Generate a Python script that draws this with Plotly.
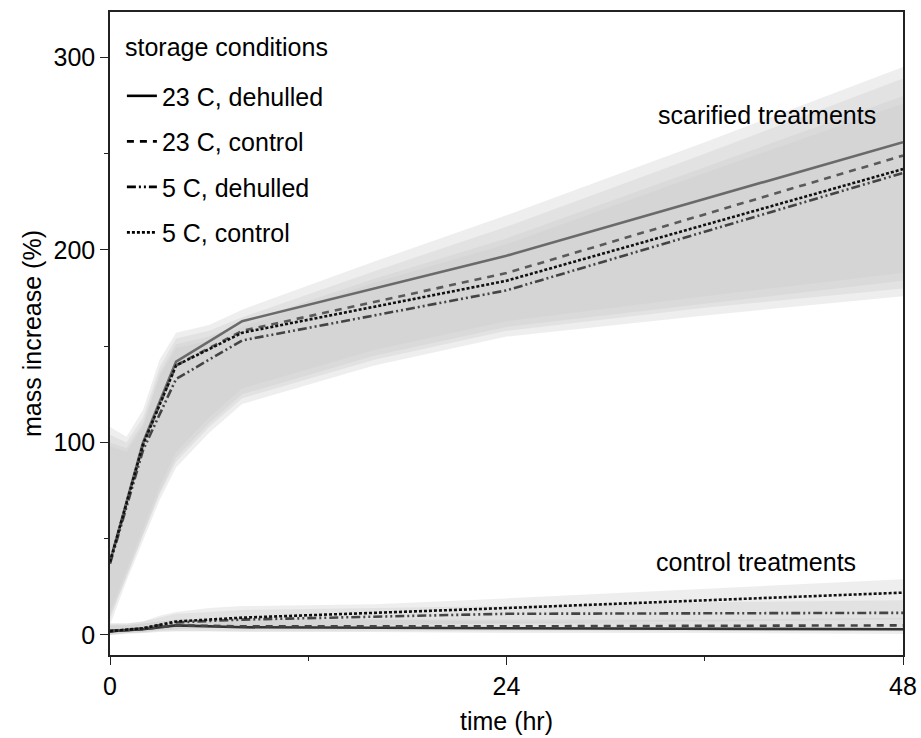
import plotly.graph_objects as go

# ---- data ----
series_names = ["23 C, dehulled", "23 C, control", "5 C, dehulled", "5 C, control"]
time_pts = [0, 2, 4, 8, 24, 48]

scarified_23_dehulled = [38, 100, 142, 163, 197, 256]
scarified_23_control = [38, 99, 140, 158, 188, 249]
scarified_5_dehulled = [37, 96, 133, 153, 179, 240]
scarified_5_control = [38, 99, 140, 157, 184, 242]

control_23_dehulled = [2, 3, 5, 4, 3.5, 3]
control_23_control = [2, 3, 5, 4.5, 4.5, 5]
control_5_dehulled = [2, 3.5, 6.5, 8, 11, 11.5]
control_5_control = [2, 3.5, 7, 9, 14, 22]

# ribbon (confidence band) bounds
band_t = [0, 1, 2, 3, 4, 6, 8, 16, 24, 36, 48]
scar_hi_23_dehulled = [108, 103, 117, 143, 157, 161, 169, 194, 218, 256, 295]
scar_lo_23_dehulled = [10, 30, 52, 74, 92, 110, 125, 145, 160, 172, 184]
scar_hi_23_control = [104, 100, 113, 139, 154, 158, 165, 189, 212, 250, 289]
scar_lo_23_control = [5, 28, 49, 70, 87, 105, 120, 140, 155, 166, 176]
scar_hi_5_dehulled = [100, 97, 110, 136, 151, 155, 162, 185, 206, 243, 280]
scar_lo_5_dehulled = [12, 33, 55, 77, 95, 113, 128, 148, 163, 176, 188]
scar_hi_5_control = [98, 95, 108, 134, 149, 153, 160, 183, 203, 240, 276]
scar_lo_5_control = [8, 31, 52, 73, 90, 108, 123, 143, 158, 170, 180]

ctrl_hi_23_dehulled = [5, 5, 6, 7, 8, 8, 8, 8, 7, 6, 6]
ctrl_lo_23_dehulled = [0, 0.5, 1, 1.5, 2, 2, 1.5, 1.5, 1, 1, 0.5]
ctrl_hi_23_control = [5, 5, 6, 7, 8, 8, 8, 8, 8, 8, 9]
ctrl_lo_23_control = [0.5, 1, 1, 2, 2, 2, 2, 2, 2, 2, 2]
ctrl_hi_5_dehulled = [6, 6, 7, 9, 11, 12, 13, 14, 15, 17, 18]
ctrl_lo_5_dehulled = [0, 1, 1.5, 2.5, 3, 3.5, 4, 5, 6, 6, 6]
ctrl_hi_5_control = [6, 6, 7, 10, 12, 14, 15, 16, 19, 24, 29]
ctrl_lo_5_control = [0, 1, 1.5, 2.5, 3, 4, 4.5, 5, 6, 7, 8]

x_ticks = [0, 24, 48]
y_ticks = [0, 100, 200, 300]

# ---- styles ----
dashes = ["solid", "7px,6px", "9px,3px,2px,3px,2px,3px", "3px,2px"]
colors = ["#6a6a6a", "#5a5a5a", "#444444", "#111111"]
ctrl_colors = ["#333333", "#444444", "#444444", "#111111"]
band_fill = "rgba(203,203,203,0.33)"
FONT = "Liberation Sans, Arial, Helvetica, sans-serif"
FS = 25

fig = go.Figure()

bands = [
    (scar_hi_23_dehulled, scar_lo_23_dehulled), (scar_hi_23_control, scar_lo_23_control),
    (scar_hi_5_dehulled, scar_lo_5_dehulled), (scar_hi_5_control, scar_lo_5_control),
    (ctrl_hi_23_dehulled, ctrl_lo_23_dehulled), (ctrl_hi_23_control, ctrl_lo_23_control),
    (ctrl_hi_5_dehulled, ctrl_lo_5_dehulled), (ctrl_hi_5_control, ctrl_lo_5_control),
]
for hi, lo in bands:
    fig.add_trace(go.Scatter(
        x=band_t + band_t[::-1], y=hi + lo[::-1], fill="toself",
        fillcolor=band_fill, line=dict(width=0), mode="lines",
        showlegend=False, hoverinfo="skip"))

scar = [scarified_23_dehulled, scarified_23_control, scarified_5_dehulled, scarified_5_control]
ctrl = [control_23_dehulled, control_23_control, control_5_dehulled, control_5_control]
for i in range(4):
    fig.add_trace(go.Scatter(x=time_pts, y=scar[i], mode="lines",
                             line=dict(color=colors[i], width=2.6, dash=dashes[i]),
                             showlegend=False))
    fig.add_trace(go.Scatter(x=time_pts, y=ctrl[i], mode="lines",
                             line=dict(color=ctrl_colors[i], width=2.6, dash=dashes[i]),
                             showlegend=False))

# legend entries (black)
for i, name in enumerate(series_names):
    fig.add_trace(go.Scatter(x=[None], y=[None], mode="lines", name=name,
                             legendgroup=name,
                             line=dict(color="black", width=2.6, dash=dashes[i])))

tfont = dict(size=FS, color="black", family=FONT)
fig.add_annotation(x=46.5, y=270, text="scarified treatments", showarrow=False,
                   xanchor="right", yanchor="middle", font=tfont)
fig.add_annotation(x=45.3, y=38, text="control treatments", showarrow=False,
                   xanchor="right", yanchor="middle", font=tfont)
fig.add_annotation(x=0.016, y=0.945, xref="paper", yref="paper", text="storage conditions",
                   showarrow=False, xanchor="left", yanchor="middle", font=tfont)

axis_common = dict(showgrid=False, zeroline=False, showline=True, linecolor="#222222",
                   linewidth=1.5, mirror=True, ticks="outside", ticklen=8, tickwidth=1.3,
                   tickcolor="#222222", tickfont=tfont, automargin=False)

fig.update_xaxes(range=[0, 48], tickvals=x_ticks, ticktext=[str(v) for v in x_ticks],
                 title=dict(text="time (hr)", font=tfont, standoff=14),
                 minor=dict(dtick=12, tick0=0, ticks="outside", ticklen=4, tickcolor="#222222"),
                 **axis_common)
fig.update_yaxes(range=[-10.4, 323.6], tickvals=y_ticks, ticktext=[str(v) for v in y_ticks],
                 title=dict(text="mass increase (%)", font=tfont, standoff=5),
                 minor=dict(dtick=50, tick0=0, ticks="outside", ticklen=4, tickcolor="#222222"),
                 **axis_common)

fig.update_layout(
    width=921, height=738,
    margin=dict(l=110, r=18, t=12, b=83),
    plot_bgcolor="white", paper_bgcolor="white",
    font=dict(family=FONT, size=FS, color="black"),
    legend=dict(x=0.015, y=0.905, xanchor="left", yanchor="top",
                bgcolor="rgba(0,0,0,0)", tracegroupgap=10,
                font=tfont),
)

fig.write_html("out.html", config={"displayModeBar": False},
               post_script="document.body.style.margin='0';")
